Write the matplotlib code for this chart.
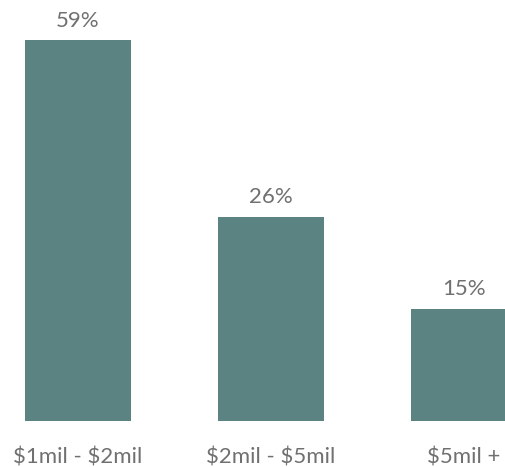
import matplotlib
matplotlib.use('Agg')
import matplotlib.pyplot as plt

# bar heights as drawn in the picture (labels do not scale linearly with them)
categories = [r'\$1mil - \$2mil', r'\$2mil - \$5mil', r'\$5mil +']
heights = [59, 31.6, 17.4]
value_labels = ['59%', '26%', '15%']

bar_color = '#5a8381'
text_color = '#707070'

plt.rcParams['font.family'] = ['Lato', 'DejaVu Sans']

fig = plt.figure(figsize=(5.05, 4.67), dpi=100)
ax = fig.add_axes([0, 46.3 / 467, 1, 420.7 / 467])

x = range(len(categories))
bars = ax.bar(x, heights, width=0.55, color=bar_color)

for b, lab in zip(bars, value_labels):
    ax.annotate(lab, (b.get_x() + b.get_width() / 2, b.get_height()),
                xytext=(0, 7), textcoords='offset points',
                ha='center', va='bottom', fontsize=16, color=text_color)

ax.set_xlim(-78 / 193, 427 / 193)
ax.set_ylim(0, 59 * 420.7 / 380.4)
ax.set_xticks(list(x))
ax.set_xticklabels(categories, fontsize=16, color=text_color)
ax.tick_params(axis='x', length=0, pad=19)
ax.set_yticks([])
for s in ax.spines.values():
    s.set_visible(False)

fig.savefig('out.png', dpi=100)
